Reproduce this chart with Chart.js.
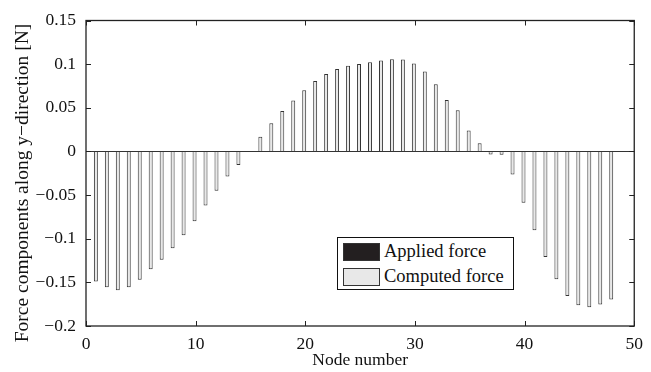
<!DOCTYPE html>
<html>
<head>
<meta charset="utf-8">
<script src="https://cdn.jsdelivr.net/npm/chart.js@4.4.0/dist/chart.umd.min.js"></script>
<style>
  html, body { margin: 0; padding: 0; background: #fff; }
  #wrap { position: relative; width: 651px; height: 372px; }
  #legend {
    position: absolute; left: 337px; top: 237px; width: 175px; height: 51px;
    border: 1.5px solid #111; background: #fff;
    font-family: "Liberation Serif", serif; font-size: 18.5px; color: #111;
  }
  #legend .item { position: absolute; left: 5px; display: flex; align-items: center; white-space: nowrap; }
  #legend .sw { width: 37px; height: 18px; border: 1px solid #333; box-sizing: border-box; margin-right: 4px; }
</style>
</head>
<body>
<div id="wrap">
  <canvas id="forceChart" width="651" height="372"></canvas>
  <div id="legend"></div>
</div>
<script>
const nodes = [1, 2, 3, 4, 5, 6, 7, 8, 9, 10, 11, 12, 13, 14, 15, 16,
  17, 18, 19, 20, 21, 22, 23, 24, 25, 26, 27, 28, 29, 30, 31, 32,
  33, 34, 35, 36, 37, 38, 39, 40, 41, 42, 43, 44, 45, 46, 47, 48];

const appliedForce = [0, 0, 0, 0, 0, 0, 0, 0, 0, 0, 0, 0, 0, 0, 0, 0,
  0, 0, 0, 0, 0, 0, 0, 0, 0, 0, 0, 0, 0, 0, 0, 0,
  0, 0, 0, 0, 0, 0, 0, 0, 0, 0, 0, 0, 0, 0, 0, 0];

const computedForce = [
  -0.149, -0.1555, -0.159, -0.1555, -0.147, -0.135, -0.124, -0.111,
  -0.096, -0.080, -0.062, -0.045, -0.0287, -0.0156, 0.0005, 0.0168,
  0.0323, 0.0462, 0.0583, 0.0702, 0.0808, 0.0887, 0.0944, 0.0981,
  0.1002, 0.1023, 0.1041, 0.1057, 0.1052, 0.1007, 0.0917, 0.077,
  0.059, 0.0473, 0.024, 0.0093, -0.0035, -0.0038, -0.0264, -0.0588,
  -0.0904, -0.121, -0.1465, -0.1657, -0.1762, -0.1785, -0.1755, -0.1695
];

const xTicks = [0, 10, 20, 30, 40, 50];
const yTicks = [-0.2, -0.15, -0.1, -0.05, 0, 0.05, 0.1, 0.15];

const serif = "'Liberation Serif', 'Times New Roman', serif";

const toPoints = (vals) => vals.map((v, i) => ({ x: nodes[i], y: v }));

const fmtY = (v) => {
  const r = parseFloat(v.toFixed(2));
  if (r === 0) return "0";
  return (r < 0 ? "\u2212" : "") + String(Math.abs(r));
};

// box round the plot and inward tick marks, as in matlab
const matlabAxes = {
  id: "matlabAxes",
  afterDraw(chart) {
    const { ctx, chartArea: a, scales } = chart;
    ctx.save();
    ctx.strokeStyle = "#222";
    ctx.lineWidth = 1;
    ctx.beginPath();
    xTicks.forEach((t) => {
      const px = Math.round(scales.x.getPixelForValue(t)) + 0.5;
      ctx.moveTo(px, a.bottom); ctx.lineTo(px, a.bottom - 5);
      ctx.moveTo(px, a.top); ctx.lineTo(px, a.top + 5);
    });
    yTicks.forEach((t) => {
      const py = Math.round(scales.y.getPixelForValue(t)) + 0.5;
      ctx.moveTo(a.left, py); ctx.lineTo(a.left + 5, py);
      ctx.moveTo(a.right, py); ctx.lineTo(a.right - 5, py);
    });
    ctx.stroke();
    ctx.lineWidth = 1.3;
    ctx.strokeRect(a.left, a.top, a.right - a.left, a.bottom - a.top);
    ctx.restore();
  }
};

const chart = new Chart(document.getElementById("forceChart"), {
  type: "bar",
  data: {
    datasets: [
      {
        label: "Computed force",
        data: toPoints(computedForce),
        backgroundColor: "#e8e8e8",
        borderColor: "#333",
        borderWidth: 1,
        categoryPercentage: 0.4,
        barPercentage: 1.8,
      },
      {
        label: "Applied force",
        data: toPoints(appliedForce),
        backgroundColor: "#231f20",
        borderColor: "#231f20",
        borderWidth: 0,
        categoryPercentage: 0.4,
        barPercentage: 1.8,
      },
    ],
  },
  options: {
    responsive: false,
    animation: false,
    layout: { padding: { left: 0, right: 13, top: 16, bottom: 0 } },
    plugins: {
      legend: { display: false },
      tooltip: { enabled: false },
    },
    scales: {
      x: {
        type: "linear",
        min: 0,
        max: 50,
        offset: false,
        afterBuildTicks: (s) => { s.ticks = xTicks.map((v) => ({ value: v })); },
        ticks: { color: "#111", font: { family: serif, size: 17.5 }, padding: 8, maxRotation: 0 },
        grid: { display: false, drawTicks: false },
        border: { display: false },
        title: {
          display: true,
          text: "Node number",
          color: "#111",
          font: { family: serif, size: 17.5 },
          padding: { top: 0, bottom: 1 },
        },
        afterFit: (s) => { s.height = 46; },
      },
      y: {
        min: -0.2,
        max: 0.15,
        afterBuildTicks: (s) => { s.ticks = yTicks.map((v) => ({ value: v })); },
        ticks: {
          color: "#111",
          font: { family: serif, size: 17.5 },
          padding: 10,
          callback: (v) => fmtY(v),
        },
        grid: {
          drawTicks: false,
          lineWidth: 1,
          color: (c) => (c.tick && Math.abs(c.tick.value) < 1e-9 ? "#333" : "rgba(0,0,0,0)"),
        },
        border: { display: false },
        title: {
          display: true,
          // trailing spaces push the label down a little, like the original
          text: "Force components along y\u2212direction [N]\u00a0\u00a0\u00a0\u00a0",
          color: "#111",
          font: { family: serif, size: 19.5 },
          padding: { top: 11, bottom: 0 },
        },
        afterFit: (s) => { s.width = 86; },
      },
    },
  },
  plugins: [matlabAxes],
});

// legend inside the axes, applied force first
const legendDiv = document.getElementById("legend");
const legendOrder = [1, 0];
const legendTops = [3, 28];
legendOrder.forEach((di, k) => {
  const ds = chart.data.datasets[di];
  const item = document.createElement("div");
  item.className = "item";
  item.style.top = legendTops[k] + "px";
  item.innerHTML = `<span class="sw" style="background:${ds.backgroundColor}"></span><span>${ds.label}</span>`;
  legendDiv.appendChild(item);
});
</script>
</body>
</html>
